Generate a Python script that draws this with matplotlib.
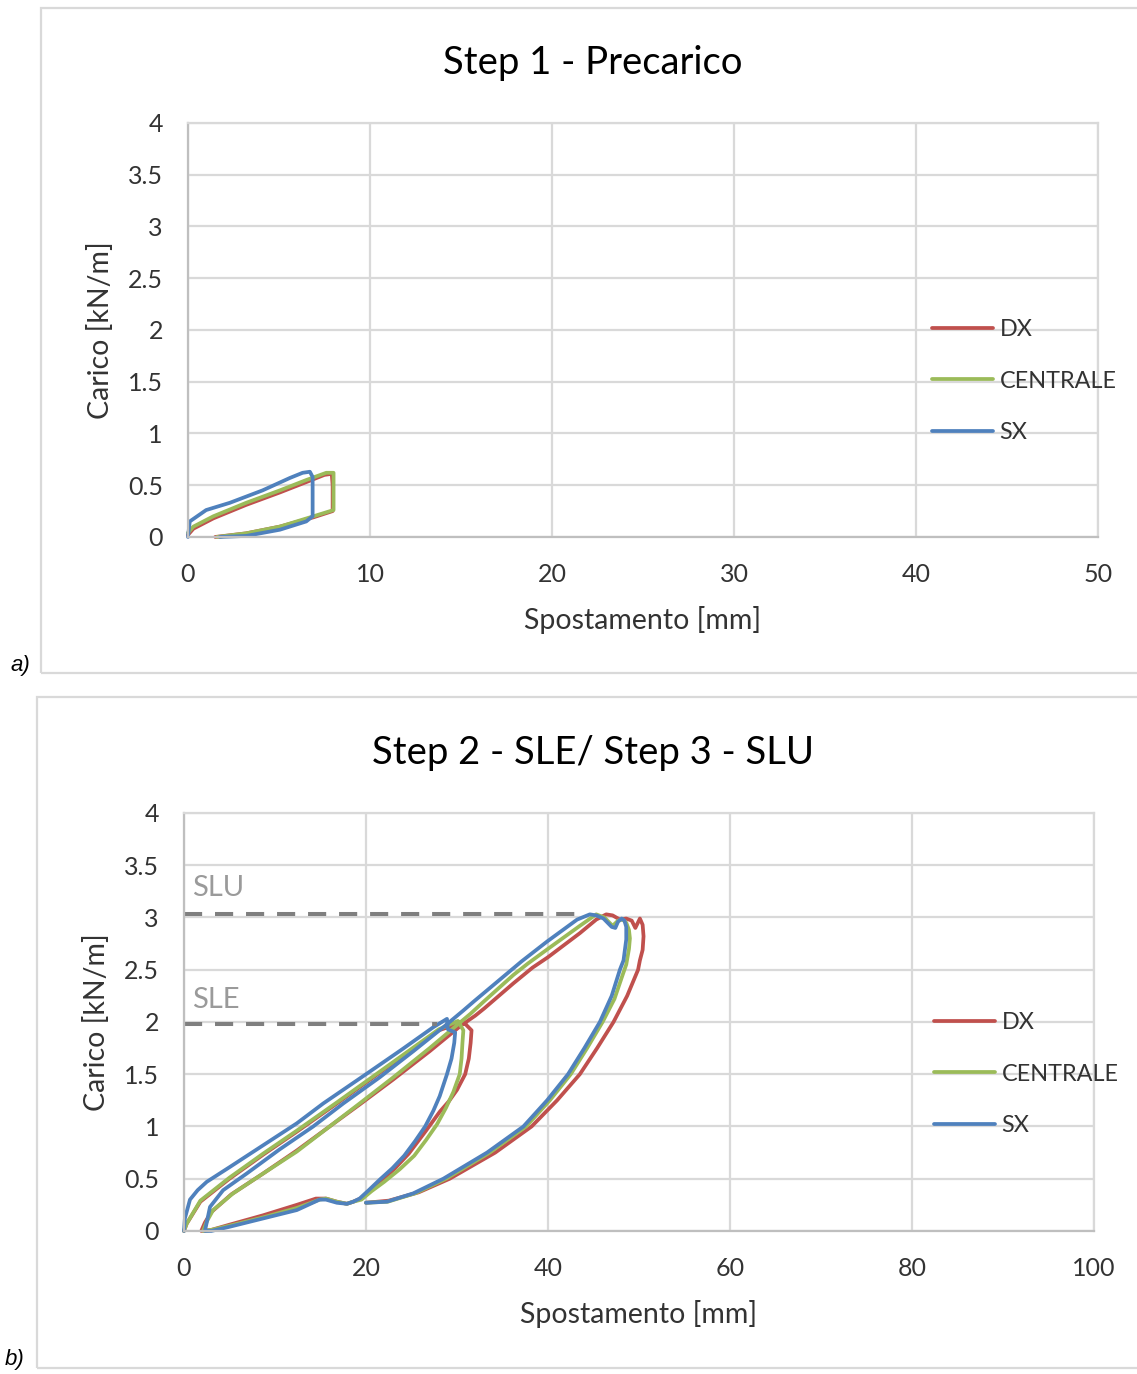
import matplotlib.pyplot as plt
from matplotlib.patches import Rectangle

plt.rcParams['font.family'] = ['Lato', 'DejaVu Sans']

SERIES = ['DX', 'CENTRALE', 'SX']
COLORS = ['#C0504D', '#9BBB59', '#4F81BD']
GRID = '#D9D9D9'
TEXT = '#333333'

# Step 1 - Precarico (displacement mm, load kN/m)
S1_DX_X = [0, 0.3, 1.4, 3.2, 5.05, 6.5, 7.5, 7.9, 7.95, 7.95, 6.9, 5.05, 3.2, 1.5]
S1_DX_Y = [0.02, 0.08, 0.18, 0.31, 0.43, 0.53, 0.6, 0.61, 0.5, 0.25, 0.19, 0.1, 0.035, 0]
S1_CE_X = [0, 0.3, 1.4, 3.2, 5.05, 6.5, 7.6, 8.0, 8.0, 8.0, 6.9, 5.05, 3.2, 1.6]
S1_CE_Y = [0.04, 0.1, 0.2, 0.33, 0.45, 0.55, 0.62, 0.62, 0.52, 0.26, 0.2, 0.1, 0.035, 0]
S1_SX_X = [0, 0.1, 1.0, 2.3, 4.1, 5.6, 6.3, 6.7, 6.85, 6.85, 6.5, 5.05, 3.2, 1.75]
S1_SX_Y = [0, 0.15, 0.26, 0.33, 0.45, 0.57, 0.62, 0.63, 0.58, 0.2, 0.15, 0.07, 0.01, 0]

# Step 2 - SLE / Step 3 - SLU
S2_DX_X = [0, 0.3, 1.8, 5, 8.7, 12.4, 16.8, 20, 24, 28, 30.7,
           31.6, 31.5, 31.3, 30.9, 30.0, 29.1, 28.1, 26.6, 24.7, 23.2, 21.7, 20.4, 19.4, 18.6,
           17.9, 16.8, 15.6, 14.5, 12.4, 8.7, 5, 3, 1.9,
           2.3, 3, 5.2, 8.7, 12.4, 16, 19.3, 23, 27, 30.5, 32, 33, 36.2, 38.3, 40, 43.5,
           45.3, 46.4, 47.1, 47.9, 48.6, 49.2, 49.6, 50.1, 50.4, 50.5, 50.4,
           50.1, 49.9, 48.7, 47.2, 45.4, 43.5, 41.0, 38.2, 34.2, 29.2, 25.8, 22.5, 20]
S2_DX_Y = [0, 0.07, 0.28, 0.5, 0.73, 0.95, 1.22, 1.42, 1.67, 1.92, 2.0,
           1.92, 1.8, 1.65, 1.5, 1.35, 1.24, 1.14, 0.96, 0.74, 0.6, 0.48, 0.38, 0.31, 0.28,
           0.26, 0.28, 0.31, 0.31, 0.25, 0.15, 0.06, 0.01, 0,
           0.08, 0.18, 0.35, 0.55, 0.77, 1.0, 1.21, 1.45, 1.72, 1.97, 2.06, 2.13, 2.37, 2.52, 2.62, 2.85,
           2.98, 3.03, 3.02, 2.98, 2.99, 2.97, 2.9, 2.99, 2.93, 2.82, 2.69,
           2.59, 2.5, 2.25, 2.0, 1.75, 1.5, 1.25, 1.0, 0.75, 0.5, 0.37, 0.29, 0.27]
S2_CE_X = [0, 0.3, 1.8, 5, 8.7, 12.4, 16.8, 20, 24, 28, 30.1,
           30.7, 30.6, 30.5, 30.3, 29.6, 28.8, 27.8, 26.6, 25.3, 23.7, 22, 20.6, 19.5, 18.6,
           17.9, 16.8, 15.6, 14.9, 12.4, 8.7, 5, 3, 2.1,
           2.5, 3.2, 5.4, 8.7, 12.4, 16, 19.3, 23, 27, 30, 31.5, 33, 36.2, 37.8, 40, 43.5,
           45.3, 46.2, 47.1, 47.7, 48.2, 48.6, 48.9, 49.0, 48.9,
           48.6, 48.2, 47.3, 46.0, 44.3, 42.5, 40.2, 37.6, 33.6, 28.8, 25.4, 22.4, 20]
S2_CE_Y = [0, 0.07, 0.29, 0.51, 0.74, 0.96, 1.23, 1.43, 1.68, 1.93, 2.01,
           1.92, 1.8, 1.65, 1.5, 1.33, 1.18, 1.02, 0.87, 0.72, 0.59, 0.47, 0.38, 0.3, 0.28,
           0.26, 0.28, 0.31, 0.3, 0.22, 0.13, 0.05, 0.01, 0.0,
           0.09, 0.2, 0.36, 0.55, 0.76, 1.0, 1.22, 1.47, 1.75, 1.97, 2.08, 2.2, 2.45, 2.56, 2.7, 2.92,
           3.03, 3.0, 2.92, 2.97, 2.98, 2.95, 2.88, 2.8, 2.7,
           2.55, 2.45, 2.22, 2.0, 1.75, 1.5, 1.25, 1.0, 0.75, 0.5, 0.36, 0.28, 0.27]
S2_SX_X = [0, 0.1, 0.66, 1.5, 2.5, 5, 8.7, 12.4, 15.3, 20, 24, 27.4, 28.9,
           29.0, 29.8, 29.7, 29.4, 28.9, 28.1, 27.4, 26.5, 25.4, 24.2, 22.9, 21.5, 20.3,
           19.3, 18.6, 17.9, 16.8, 15.6, 14.9, 12.4, 8.7, 5, 3, 2.3,
           2.5, 2.86, 4.3, 6.9, 10.5, 14.2, 17.5, 21.5, 25.2, 28.5, 30.7, 31.9, 34.5, 37.1, 39.9, 43.2,
           44.6, 45.3, 46.1, 47.0, 47.4, 47.7, 48.1, 48.4, 48.6, 48.6,
           48.3, 47.9, 47.0, 45.7, 44.0, 42.2, 39.9, 37.3, 33.3, 28.5, 25.2, 22.3, 20]
S2_SX_Y = [0, 0.12, 0.3, 0.39, 0.47, 0.61, 0.82, 1.03, 1.22, 1.5, 1.74, 1.95, 2.03,
           1.93, 1.9, 1.8, 1.65, 1.5, 1.29, 1.15, 1.0, 0.86, 0.72, 0.6, 0.49, 0.39,
           0.31, 0.28, 0.26, 0.27, 0.3, 0.3, 0.2, 0.12, 0.04, 0.0, 0.0,
           0.08, 0.23, 0.39, 0.55, 0.78, 1.0, 1.22, 1.47, 1.72, 1.95, 2.11, 2.2, 2.39, 2.58, 2.77, 2.98,
           3.03, 3.02, 2.99, 2.91, 2.9, 2.96, 2.99, 2.97, 2.91, 2.79,
           2.59, 2.5, 2.25, 2.0, 1.75, 1.5, 1.25, 1.0, 0.75, 0.5, 0.36, 0.28, 0.27]

SLU = 3.03
SLE = 1.98
SLU_END = 43
SLE_END = 27.8

Y_TICKS = [0, 0.5, 1, 1.5, 2, 2.5, 3, 3.5, 4]
Y_LABELS = ['0', '0.5', '1', '1.5', '2', '2.5', '3', '3.5', '4']
X_TICKS_A = [0, 10, 20, 30, 40, 50]
X_TICKS_B = [0, 20, 40, 60, 80, 100]


def style_axes(ax, xticks):
    ax.set_xlim(xticks[0], xticks[-1])
    ax.set_ylim(0, 4)
    ax.set_xticks(xticks)
    ax.set_xticklabels([str(t) for t in xticks])
    ax.set_yticks(Y_TICKS)
    ax.set_yticklabels(Y_LABELS)
    ax.grid(True, color=GRID, linewidth=1.6)
    ax.set_axisbelow(True)
    for s in ax.spines.values():
        s.set_color(GRID)
        s.set_linewidth(1.6)
    ax.spines['left'].set_color('#BFBFBF')
    ax.spines['bottom'].set_color('#BFBFBF')
    ax.tick_params(length=0, labelsize=18, colors=TEXT)
    ax.tick_params(axis='x', pad=19)
    ax.tick_params(axis='y', pad=18)
    ax.set_xlabel('Spostamento [mm]', fontsize=20.5, color=TEXT, labelpad=14)
    ax.set_ylabel('Carico [kN/m]', fontsize=20.5, color=TEXT, labelpad=10)


fig = plt.figure(figsize=(11.37, 13.74), dpi=100)

# panel frames
fig.patches.append(Rectangle((0.036, 0.5102), 1.0, 0.484, transform=fig.transFigure,
                             fill=False, edgecolor=GRID, linewidth=1.6))
fig.patches.append(Rectangle((0.0325, 0.0044), 1.0, 0.4883, transform=fig.transFigure,
                             fill=False, edgecolor=GRID, linewidth=1.6))

ax1 = fig.add_axes([0.1653, 0.6092, 0.8004, 0.3013])
ax2 = fig.add_axes([0.1618, 0.1041, 0.8004, 0.3042])

step1 = [(S1_DX_X, S1_DX_Y), (S1_CE_X, S1_CE_Y), (S1_SX_X, S1_SX_Y)]
step2 = [(S2_DX_X, S2_DX_Y), (S2_CE_X, S2_CE_Y), (S2_SX_X, S2_SX_Y)]

for ax, data, xt in [(ax1, step1, X_TICKS_A), (ax2, step2, X_TICKS_B)]:
    style_axes(ax, xt)
    for (xs, ys), name, c in zip(data, SERIES, COLORS):
        ax.plot(xs, ys, color=c, linewidth=2.7, label=name,
                solid_joinstyle='round', solid_capstyle='round', clip_on=False)

fig.text(0.5216, 0.9545, 'Step 1 - Precarico', fontsize=27.5, color='black',
         ha='center', va='center')
fig.text(0.5216, 0.4523, 'Step 2 - SLE/ Step 3 - SLU', fontsize=27.5, color='black',
         ha='center', va='center')

# limit state lines
ax2.plot([0, SLU_END], [SLU, SLU], color='#7F7F7F', linewidth=2.9, dashes=(4.5, 3.2))
ax2.plot([0, SLE_END], [SLE, SLE], color='#7F7F7F', linewidth=2.9, dashes=(4.5, 3.2))
ax2.text(0.9, 3.28, 'SLU', fontsize=21, color='#9A9A9A', va='center', ha='left')
ax2.text(0.9, 2.21, 'SLE', fontsize=21, color='#9A9A9A', va='center', ha='left')

for ax, lx, ly in [(ax1, 0.8197, 0.7227), (ax2, 0.8215, 0.2183)]:
    ax.legend(loc='center left', bbox_to_anchor=(lx, ly), bbox_transform=fig.transFigure,
              frameon=False, fontsize=16.8, handlelength=2.6, handletextpad=0.3,
              labelspacing=1.3, borderpad=0, borderaxespad=0,
              labelcolor=TEXT)

fig.text(0.0176, 0.516, 'a)', fontsize=16, style='italic', family='Liberation Sans',
         va='center', ha='center')
fig.text(0.0132, 0.0102, 'b)', fontsize=16, style='italic', family='Liberation Sans',
         va='center', ha='center')

fig.savefig('out.png', dpi=100)
